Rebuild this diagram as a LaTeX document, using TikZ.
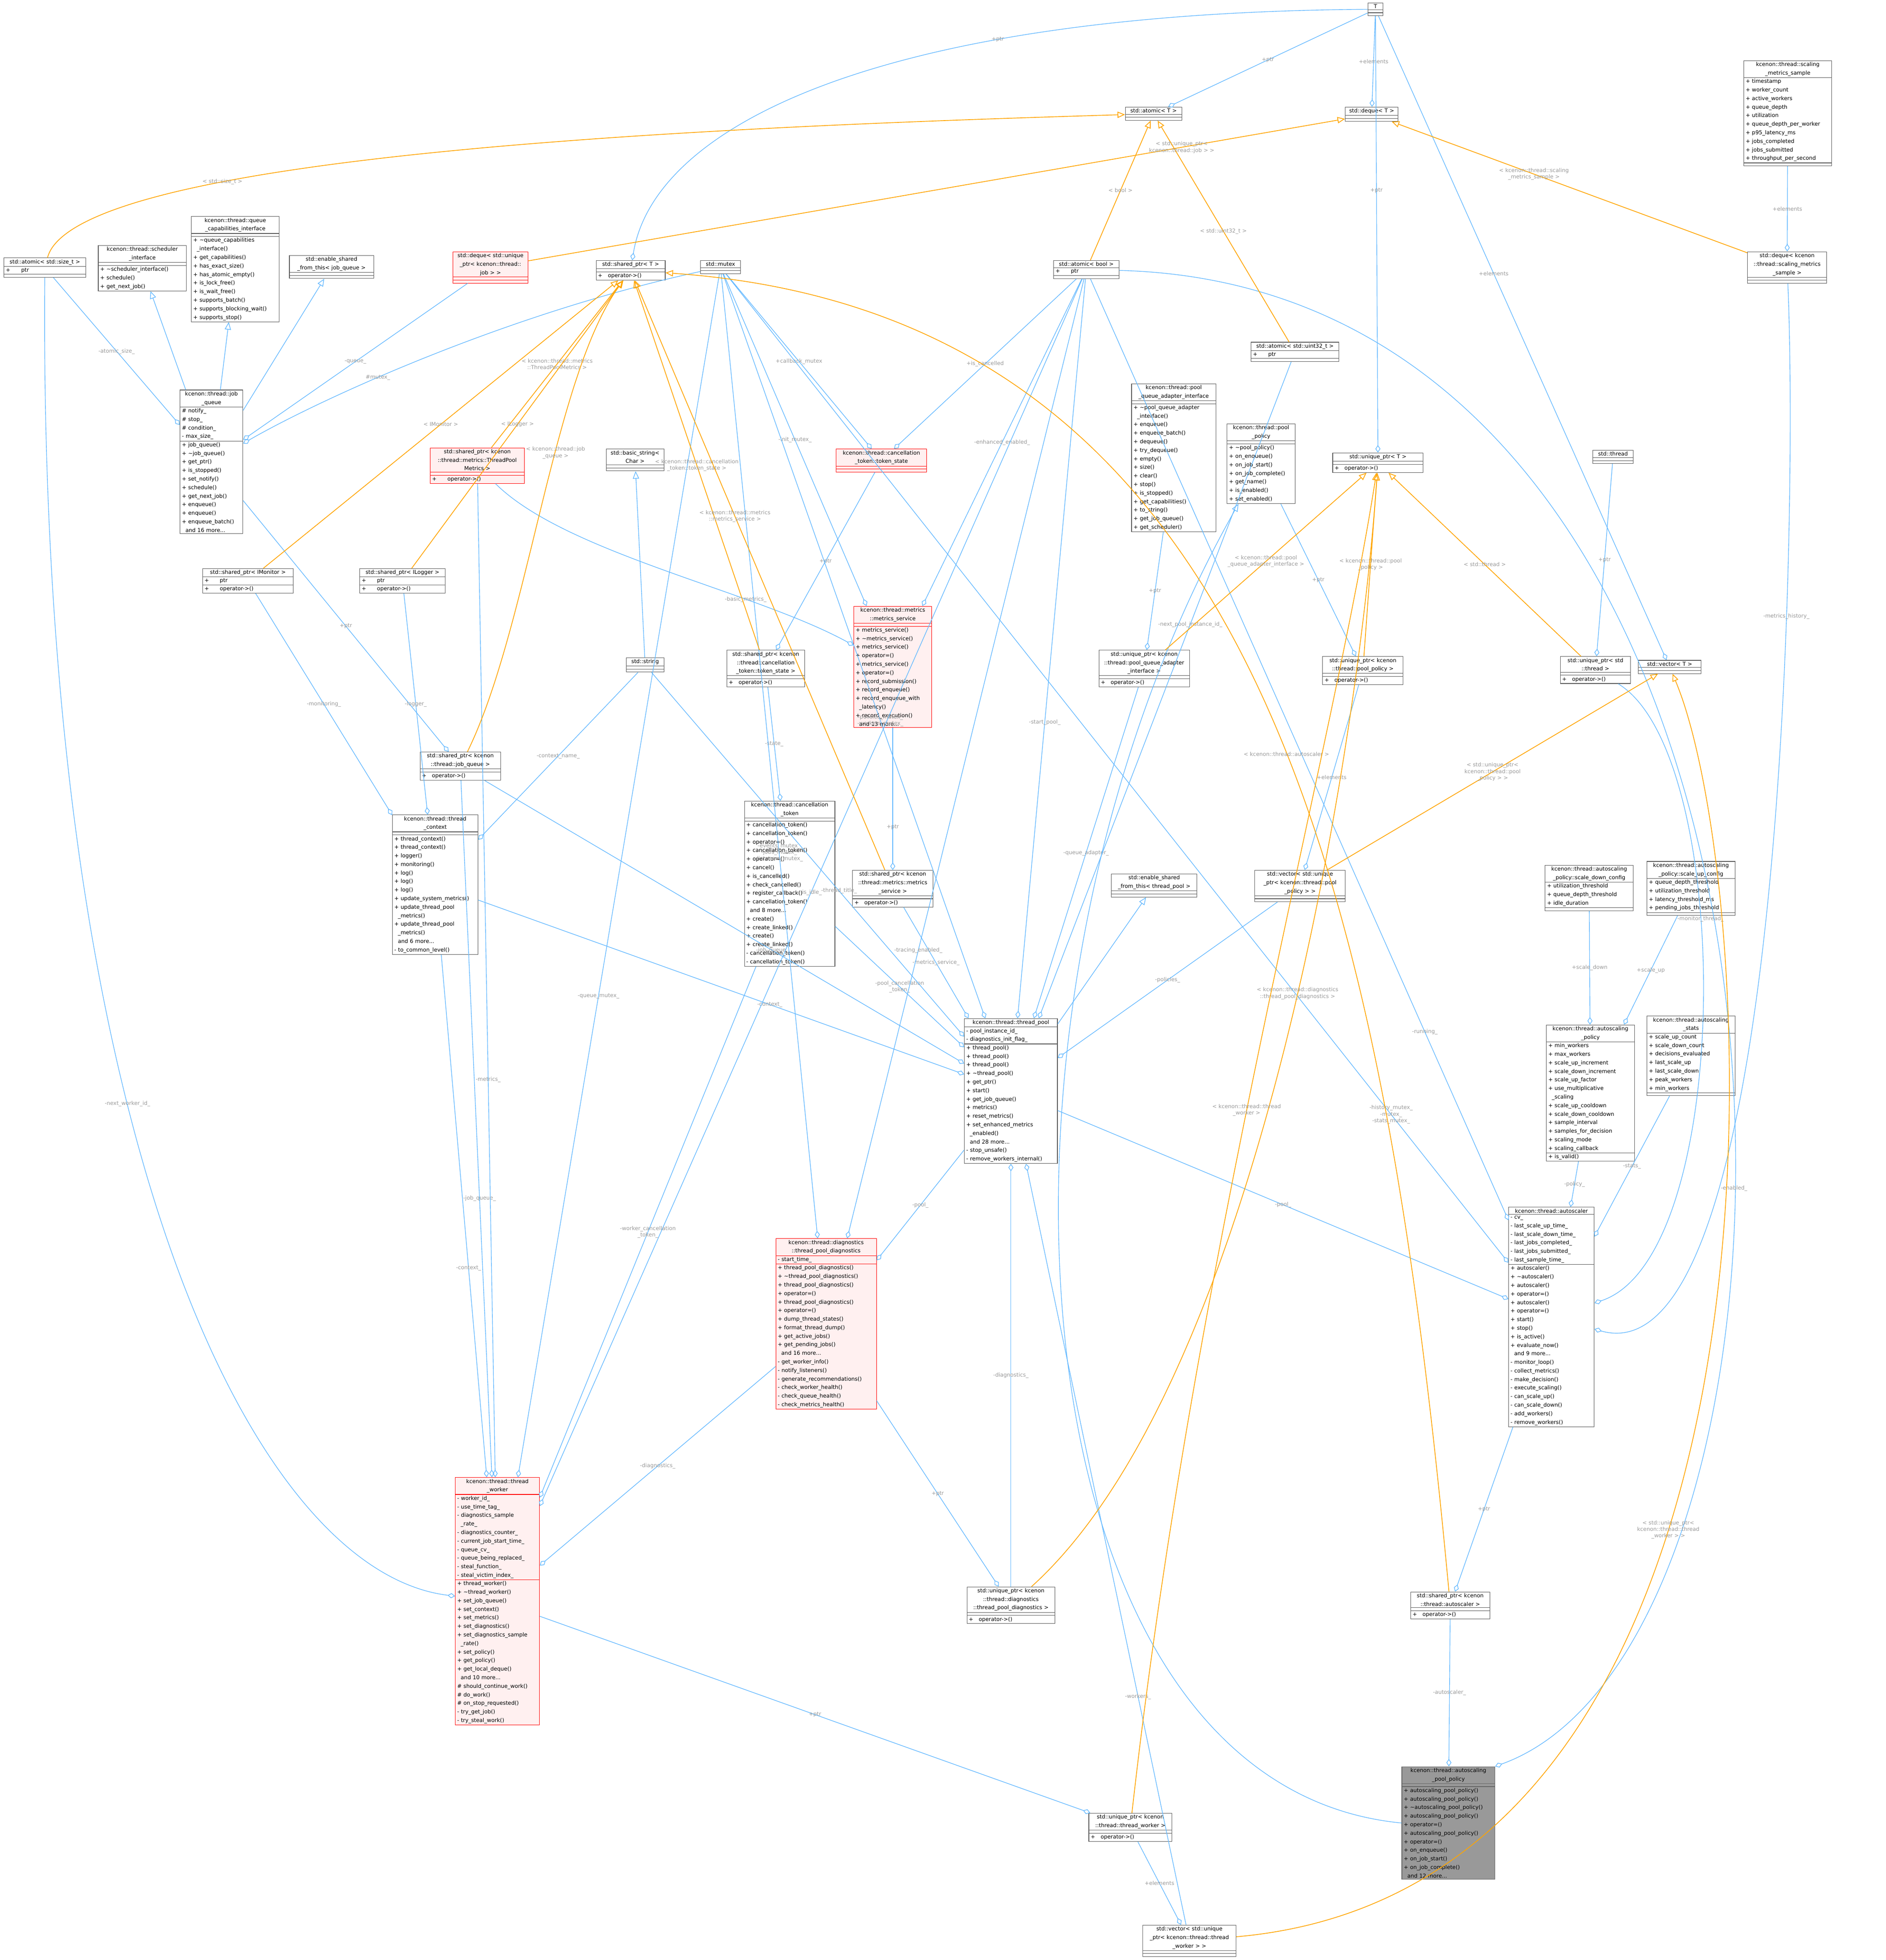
\documentclass[tikz,border=0pt]{standalone}
\usepackage{fontspec}
\setmainfont{DejaVu Sans}
\usetikzlibrary{arrows.meta,shapes.multipart}
\newcommand\dgfont{\fontsize{4.3}{6.8}\selectfont}
\newcommand\dglbl{\fontsize{4.3}{5.2}\selectfont}
\definecolor{ublue}{HTML}{63B8FF}
\definecolor{torange}{HTML}{FFA500}
\tikzset{
  cls/.style={rectangle split, rectangle split parts=3, draw=black!65, fill=white,
    align=left, font=\dgfont, inner xsep=1.5pt, inner ysep=1pt, line width=0.4pt,
    rectangle split empty part height=2pt, anchor=north west,
    rectangle split part align={center,left,left}},
  hot/.style={cls, draw=red, fill=red!6},
  focus/.style={cls, draw=black!60, fill=black!40},
  use/.style={draw=ublue, line width=0.5pt, -{Diamond[open,length=6pt,width=4pt]}},
  isa/.style={draw=ublue, line width=0.5pt, -{Triangle[open,length=6pt,width=5pt]}},
  tpl/.style={draw=torange, line width=0.6pt, -{Triangle[open,length=6pt,width=5pt]}},
  lbl/.style={font=\dglbl, text=black!40, inner sep=1pt, align=center}
}
\newcommand\ttl[1]{{\centering #1\par}}
\begin{document}
\begin{tikzpicture}[x=1pt,y=-1pt]
  \useasboundingbox (0,0) rectangle (1500,1559);
  % templates
  \node[cls, text width=9pt] (T) at (1088,2) {\ttl{T}\nodepart{two}\nodepart{three}};
  \node[cls, text width=42pt] (atomicT) at (895,85) {\ttl{std::atomic< T >}\nodepart{two}\nodepart{three}};
  \node[cls, text width=39pt] (dequeT) at (1070,85) {\ttl{std::deque< T >}\nodepart{two}\nodepart{three}};
  \node[cls, text width=52pt] (sharedT) at (474,207) {\ttl{std::shared\_ptr< T >}\nodepart{two}\nodepart{three}+\quad operator->()};
  \node[cls, text width=69pt] (uniqueT) at (1060,360) {\ttl{std::unique\_ptr< T >}\nodepart{two}\nodepart{three}+\quad operator->()};
  \node[cls, text width=47pt] (vectorT) at (1303,525) {\ttl{std::vector< T >}\nodepart{two}\nodepart{three}};
  % top row
  \node[cls, text width=67pt] (sample) at (1387,48) {\ttl{kcenon::thread::scaling\\\_metrics\_sample}\nodepart{two}+ timestamp\\+ worker\_count\\+ active\_workers\\+ queue\_depth\\+ utilization\\+ queue\_depth\_per\_worker\\+ p95\_latency\_ms\\+ jobs\_completed\\+ jobs\_submitted\\+ throughput\_per\_second\nodepart{three}};
  \node[cls, text width=62pt] (atomsize) at (3,205) {\ttl{std::atomic< std::size\_t >}\nodepart{two}+\qquad ptr\nodepart{three}};
  \node[cls, text width=67pt] (sched) at (78,195) {\ttl{kcenon::thread::scheduler\\\_interface}\nodepart{two}\nodepart{three}+ \textasciitilde scheduler\_interface()\\+ schedule()\\+ get\_next\_job()};
  \node[cls, text width=67pt] (qcaps) at (152,172) {\ttl{kcenon::thread::queue\\\_capabilities\_interface}\nodepart{two}\nodepart{three}+ \textasciitilde queue\_capabilities\\\ \ \_interface()\\+ get\_capabilities()\\+ has\_exact\_size()\\+ has\_atomic\_empty()\\+ is\_lock\_free()\\+ is\_wait\_free()\\+ supports\_batch()\\+ supports\_blocking\_wait()\\+ supports\_stop()};
  \node[cls, text width=64pt] (esjq) at (230,203) {\ttl{std::enable\_shared\\\_from\_this< job\_queue >}\nodepart{two}\nodepart{three}};
  \node[hot, text width=57pt] (djob) at (360,200) {\ttl{std::deque< std::unique\\\_ptr< kcenon::thread::\\job > >}\nodepart{two}\nodepart{three}};
  \node[cls, text width=29pt] (mutex) at (557,207) {\ttl{std::mutex}\nodepart{two}\nodepart{three}};
  \node[cls, text width=49pt] (abool) at (838,207) {\ttl{std::atomic< bool >}\nodepart{two}+\qquad ptr\nodepart{three}};
  \node[cls, text width=60pt] (dsample) at (1390,200) {\ttl{std::deque< kcenon\\::thread::scaling\_metrics\\\_sample >}\nodepart{two}\nodepart{three}};
  % second row
  \node[cls, text width=47pt] (jq) at (143,310) {\ttl{kcenon::thread::job\\\_queue}\nodepart{two}\# notify\_\\\# stop\_\\\# condition\_\\- max\_size\_\nodepart{three}+ job\_queue()\\+ \textasciitilde job\_queue()\\+ get\_ptr()\\+ is\_stopped()\\+ set\_notify()\\+ schedule()\\+ get\_next\_job()\\+ enqueue()\\+ enqueue()\\+ enqueue\_batch()\\\ \ and 16 more...};
  \node[cls, text width=67pt] (au32) at (995,272) {\ttl{std::atomic< std::uint32\_t >}\nodepart{two}+\qquad ptr\nodepart{three}};
  \node[cls, text width=64pt] (pqai) at (900,305) {\ttl{kcenon::thread::pool\\\_queue\_adapter\_interface}\nodepart{two}\nodepart{three}+ \textasciitilde pool\_queue\_adapter\\\ \ \_interface()\\+ enqueue()\\+ enqueue\_batch()\\+ dequeue()\\+ try\_dequeue()\\+ empty()\\+ size()\\+ clear()\\+ stop()\\+ is\_stopped()\\+ get\_capabilities()\\+ to\_string()\\+ get\_job\_queue()\\+ get\_scheduler()};
  \node[cls, text width=51pt] (ppol) at (976,337) {\ttl{kcenon::thread::pool\\\_policy}\nodepart{two}\nodepart{three}+ \textasciitilde pool\_policy()\\+ on\_enqueue()\\+ on\_job\_start()\\+ on\_job\_complete()\\+ get\_name()\\+ is\_enabled()\\+ set\_enabled()};
  \node[hot, text width=72pt] (spmet) at (342,356) {\ttl{std::shared\_ptr< kcenon\\::thread::metrics::ThreadPool\\Metrics >}\nodepart{two}\nodepart{three}+\qquad operator->()};
  \node[cls, text width=43pt] (bstr) at (482,357) {\ttl{std::basic\_string<\\ Char >}\nodepart{two}\nodepart{three}};
  \node[hot, text width=69pt] (tstate) at (665,357) {\ttl{kcenon::thread::cancellation\\\_token::token\_state}\nodepart{two}\nodepart{three}};
  \node[cls, text width=29pt] (sthread) at (1267,358) {\ttl{std::thread}\nodepart{two}\nodepart{three}};
  \node[cls, text width=69pt] (spmon) at (161,452) {\ttl{std::shared\_ptr< IMonitor >}\nodepart{two}+\qquad ptr\nodepart{three}+\qquad operator->()};
  \node[cls, text width=65pt] (splog) at (286,452) {\ttl{std::shared\_ptr< ILogger >}\nodepart{two}+\qquad ptr\nodepart{three}+\qquad operator->()};
  \node[hot, text width=59pt] (msvc) at (679,482) {\ttl{kcenon::thread::metrics\\::metrics\_service}\nodepart{two}\nodepart{three}+ metrics\_service()\\+ \textasciitilde metrics\_service()\\+ metrics\_service()\\+ operator=()\\+ metrics\_service()\\+ operator=()\\+ record\_submission()\\+ record\_enqueue()\\+ record\_enqueue\_with\\\ \ \_latency()\\+ record\_execution()\\\ \ and 13 more...};
  \node[cls, text width=27pt] (str) at (498,523) {\ttl{std::string}\nodepart{two}\nodepart{three}};
  \node[cls, text width=59pt] (sptok) at (578,517) {\ttl{std::shared\_ptr< kcenon\\::thread::cancellation\\\_token::token\_state >}\nodepart{two}\nodepart{three}+\quad operator->()};
  \node[cls, text width=69pt] (upqa) at (874,517) {\ttl{std::unique\_ptr< kcenon\\::thread::pool\_queue\_adapter\\\_interface >}\nodepart{two}\nodepart{three}+\quad operator->()};
  \node[cls, text width=61pt] (uppol) at (1052,522) {\ttl{std::unique\_ptr< kcenon\\::thread::pool\_policy >}\nodepart{two}\nodepart{three}+\quad operator->()};
  \node[cls, text width=53pt] (upthr) at (1241,522) {\ttl{std::unique\_ptr< std\\::thread >}\nodepart{two}\nodepart{three}+\quad operator->()};
  \node[cls, text width=61pt] (spjq) at (334,598) {\ttl{std::shared\_ptr< kcenon\\::thread::job\_queue >}\nodepart{two}\nodepart{three}+\quad operator->()};
  % middle
  \node[cls, text width=65pt] (ctx) at (312,648) {\ttl{kcenon::thread::thread\\\_context}\nodepart{two}\nodepart{three}+ thread\_context()\\+ thread\_context()\\+ logger()\\+ monitoring()\\+ log()\\+ log()\\+ log()\\+ update\_system\_metrics()\\+ update\_thread\_pool\\\ \ \_metrics()\\+ update\_thread\_pool\\\ \ \_metrics()\\\ \ and 6 more...\\- to\_common\_level()};
  \node[cls, text width=69pt] (ctok) at (592,637) {\ttl{kcenon::thread::cancellation\\\_token}\nodepart{two}\nodepart{three}+ cancellation\_token()\\+ cancellation\_token()\\+ operator=()\\+ cancellation\_token()\\+ operator=()\\+ cancel()\\+ is\_cancelled()\\+ check\_cancelled()\\+ register\_callback()\\+ cancellation\_token()\\\ \ and 8 more...\\+ create()\\+ create\_linked()\\+ create()\\+ create\_linked()\\- cancellation\_token()\\- cancellation\_token()};
  \node[cls, text width=61pt] (spmsvc) at (678,692) {\ttl{std::shared\_ptr< kcenon\\::thread::metrics::metrics\\\_service >}\nodepart{two}\nodepart{three}+\quad operator->()};
  \node[cls, text width=65pt] (estp) at (884,695) {\ttl{std::enable\_shared\\\_from\_this< thread\_pool >}\nodepart{two}\nodepart{three}};
  \node[cls, text width=69pt] (vpol) at (998,692) {\ttl{std::vector< std::unique\\\_ptr< kcenon::thread::pool\\\_policy > >}\nodepart{two}\nodepart{three}};
  \node[cls, text width=67pt] (sdown) at (1229,688) {\ttl{kcenon::thread::autoscaling\\\_policy::scale\_down\_config}\nodepart{two}+ utilization\_threshold\\+ queue\_depth\_threshold\\+ idle\_duration\nodepart{three}};
  \node[cls, text width=67pt] (sup) at (1310,685) {\ttl{kcenon::thread::autoscaling\\\_policy::scale\_up\_config}\nodepart{two}+ queue\_depth\_threshold\\+ utilization\_threshold\\+ latency\_threshold\_ms\\+ pending\_jobs\_threshold\nodepart{three}};
  \node[cls, text width=71pt] (pool) at (767,810) {\ttl{kcenon::thread::thread\_pool}\nodepart{two}- pool\_instance\_id\_\\- diagnostics\_init\_flag\_\nodepart{three}+ thread\_pool()\\+ thread\_pool()\\+ thread\_pool()\\+ \textasciitilde thread\_pool()\\+ get\_ptr()\\+ start()\\+ get\_job\_queue()\\+ metrics()\\+ reset\_metrics()\\+ set\_enhanced\_metrics\\\ \ \_enabled()\\\ \ and 28 more...\\- stop\_unsafe()\\- remove\_workers\_internal()};
  \node[cls, text width=67pt] (apol) at (1230,815) {\ttl{kcenon::thread::autoscaling\\\_policy}\nodepart{two}+ min\_workers\\+ max\_workers\\+ scale\_up\_increment\\+ scale\_down\_increment\\+ scale\_up\_factor\\+ use\_multiplicative\\\ \ \_scaling\\+ scale\_up\_cooldown\\+ scale\_down\_cooldown\\+ sample\_interval\\+ samples\_for\_decision\\+ scaling\_mode\\+ scaling\_callback\nodepart{three}+ is\_valid()};
  \node[cls, text width=67pt] (astat) at (1310,808) {\ttl{kcenon::thread::autoscaling\\\_stats}\nodepart{two}+ scale\_up\_count\\+ scale\_down\_count\\+ decisions\_evaluated\\+ last\_scale\_up\\+ last\_scale\_down\\+ peak\_workers\\+ min\_workers\nodepart{three}};
  \node[hot, text width=77pt] (diag) at (617,985) {\ttl{kcenon::thread::diagnostics\\::thread\_pool\_diagnostics}\nodepart{two}- start\_time\_\nodepart{three}+ thread\_pool\_diagnostics()\\+ \textasciitilde thread\_pool\_diagnostics()\\+ thread\_pool\_diagnostics()\\+ operator=()\\+ thread\_pool\_diagnostics()\\+ operator=()\\+ dump\_thread\_states()\\+ format\_thread\_dump()\\+ get\_active\_jobs()\\+ get\_pending\_jobs()\\\ \ and 16 more...\\- get\_worker\_info()\\- notify\_listeners()\\- generate\_recommendations()\\- check\_worker\_health()\\- check\_queue\_health()\\- check\_metrics\_health()};
  \node[cls, text width=65pt] (ascl) at (1200,960) {\ttl{kcenon::thread::autoscaler}\nodepart{two}- cv\_\\- last\_scale\_up\_time\_\\- last\_scale\_down\_time\_\\- last\_jobs\_completed\_\\- last\_jobs\_submitted\_\\- last\_sample\_time\_\nodepart{three}+ autoscaler()\\+ \textasciitilde autoscaler()\\+ autoscaler()\\+ operator=()\\+ autoscaler()\\+ operator=()\\+ start()\\+ stop()\\+ is\_active()\\+ evaluate\_now()\\\ \ and 9 more...\\- monitor\_loop()\\- collect\_metrics()\\- make\_decision()\\- execute\_scaling()\\- can\_scale\_up()\\- can\_scale\_down()\\- add\_workers()\\- remove\_workers()};
  % bottom
  \node[hot, text width=64pt] (wkr) at (362,1175) {\ttl{kcenon::thread::thread\\\_worker}\nodepart{two}- worker\_id\_\\- use\_time\_tag\_\\- diagnostics\_sample\\\ \ \_rate\_\\- diagnostics\_counter\_\\- current\_job\_start\_time\_\\- queue\_cv\_\\- queue\_being\_replaced\_\\- steal\_function\_\\- steal\_victim\_index\_\nodepart{three}+ thread\_worker()\\+ \textasciitilde thread\_worker()\\+ set\_job\_queue()\\+ set\_context()\\+ set\_metrics()\\+ set\_diagnostics()\\+ set\_diagnostics\_sample\\\ \ \_rate()\\+ set\_policy()\\+ get\_policy()\\+ get\_local\_deque()\\\ \ and 10 more...\\\# should\_continue\_work()\\\# do\_work()\\\# on\_stop\_requested()\\- try\_get\_job()\\- try\_steal\_work()};
  \node[cls, text width=67pt] (updiag) at (769,1262) {\ttl{std::unique\_ptr< kcenon\\::thread::diagnostics\\::thread\_pool\_diagnostics >}\nodepart{two}\nodepart{three}+\quad operator->()};
  \node[cls, text width=60pt] (spascl) at (1122,1266) {\ttl{std::shared\_ptr< kcenon\\::thread::autoscaler >}\nodepart{two}\nodepart{three}+\quad operator->()};
  \node[focus, text width=71pt] (app) at (1115,1405) {\ttl{kcenon::thread::autoscaling\\\_pool\_policy}\nodepart{two}\nodepart{three}+ autoscaling\_pool\_policy()\\+ autoscaling\_pool\_policy()\\+ \textasciitilde autoscaling\_pool\_policy()\\+ autoscaling\_pool\_policy()\\+ operator=()\\+ autoscaling\_pool\_policy()\\+ operator=()\\+ on\_enqueue()\\+ on\_job\_start()\\+ on\_job\_complete()\\\ \ and 12 more...};
  \node[cls, text width=63pt] (upwkr) at (866,1442) {\ttl{std::unique\_ptr< kcenon\\::thread::thread\_worker >}\nodepart{two}\nodepart{three}+\quad operator->()};
  \node[cls, text width=71pt] (vwkr) at (909,1531) {\ttl{std::vector< std::unique\\\_ptr< kcenon::thread::thread\\\_worker > >}\nodepart{two}\nodepart{three}};
  % members
  \draw[use] (T) -- node[lbl]{+ptr} (atomicT);
  \draw[use] (T) -- node[lbl]{+elements} (dequeT);
  \draw[use] (T) .. controls (700,10) and (520,100) .. node[lbl,pos=0.3]{+ptr} (sharedT);
  \draw[use] (T) -- node[lbl,pos=0.4]{+ptr} (uniqueT);
  \draw[use] (T) -- node[lbl,pos=0.4]{+elements} (vectorT);
  \draw[use] (sample) -- node[lbl]{+elements} (dsample);
  \draw[use] (atomsize) -- node[lbl]{-atomic\_size\_} (jq);
  \draw[use] (djob) -- node[lbl]{-queue\_} (jq);
  \draw[use] (mutex) .. controls (400,250) and (250,320) .. node[lbl,pos=0.6]{\#mutex\_} (jq);
  \draw[use] (tstate) -- node[lbl]{+ptr} (sptok);
  \draw[use] (mutex) -- node[lbl]{+callback\_mutex} (tstate);
  \draw[use] (abool) -- node[lbl]{+is\_cancelled} (tstate);
  \draw[use] (spmet) .. controls (450,440) and (600,470) .. node[lbl,pos=0.7]{-basic\_metrics\_} (msvc);
  \draw[use] (mutex) -- node[lbl]{-init\_mutex\_} (msvc);
  \draw[use] (abool) -- node[lbl]{-enhanced\_enabled\_} (msvc);
  \draw[use] (jq) -- node[lbl]{+ptr} (spjq);
  \draw[use] (spmon) -- node[lbl]{-monitoring\_} (ctx);
  \draw[use] (splog) -- node[lbl]{-logger\_} (ctx);
  \draw[use] (str) -- node[lbl]{-context\_name\_} (ctx);
  \draw[use] (sptok) -- node[lbl]{-state\_} (ctok);
  \draw[use] (msvc) -- node[lbl,pos=0.7]{+ptr} (spmsvc);
  \draw[use] (pqai) -- node[lbl]{+ptr} (upqa);
  \draw[use] (ppol) -- node[lbl]{+ptr} (uppol);
  \draw[use] (sthread) -- node[lbl]{+ptr} (upthr);
  \draw[use] (uppol) -- node[lbl]{+elements} (vpol);
  \draw[use] (upwkr) -- node[lbl]{+elements} (vwkr);
  \draw[use] (wkr) -- node[lbl]{+ptr} (upwkr);
  \draw[use] (spjq) -- node[lbl,pos=0.6]{-job\_queue\_} (pool);
  \draw[use] (ctx) -- node[lbl,pos=0.6]{-context\_} (pool);
  \draw[use] (ctok) -- node[lbl]{-pool\_cancellation\\\_token\_} (pool);
  \draw[use] (spmsvc) -- node[lbl]{-metrics\_service\_} (pool);
  \draw[use] (upqa) -- node[lbl]{-queue\_adapter\_} (pool);
  \draw[use] (vpol) -- node[lbl]{-policies\_} (pool);
  \draw[use] (abool) -- node[lbl,pos=0.6]{-start\_pool\_} (pool);
  \draw[use] (mutex) -- node[lbl,pos=0.6]{-policies\_mutex\_\\-workers\_mutex\_} (pool);
  \draw[use] (au32) -- node[lbl,pos=0.4]{-next\_pool\_instance\_id\_} (pool);
  \draw[use] (updiag) -- node[lbl]{-diagnostics\_} (pool);
  \draw[use] (vwkr) -- node[lbl,pos=0.3]{-workers\_} (pool);
  \draw[use] (str) -- node[lbl,pos=0.6]{-thread\_title\_} (pool);
  \draw[use] (pool) -- node[lbl]{-pool\_} (diag);
  \draw[use] (diag) -- node[lbl]{+ptr} (updiag);
  \draw[use] (mutex) -- node[lbl,pos=0.6]{-events\_mutex\_\\-jobs\_mutex\_\\-listeners\_mutex\_} (diag);
  \draw[use] (abool) -- node[lbl,pos=0.7]{-tracing\_enabled\_} (diag);
  \draw[use] (pool) -- node[lbl]{-pool\_} (ascl);
  \draw[use] (apol) -- node[lbl]{-policy\_} (ascl);
  \draw[use] (astat) -- node[lbl]{-stats\_} (ascl);
  \draw[use] (sdown) -- node[lbl]{+scale\_down} (apol);
  \draw[use] (sup) -- node[lbl]{+scale\_up} (apol);
  \draw[use] (mutex) -- node[lbl,pos=0.85]{-history\_mutex\_\\-mutex\_\\-stats\_mutex\_} (ascl);
  \draw[use] (abool) -- node[lbl,pos=0.8]{-running\_} (ascl);
  \draw[use] (upthr) .. controls (1380,600) and (1380,1000) .. node[lbl,pos=0.4]{-monitor\_thread\_} (ascl);
  \draw[use] (dsample) .. controls (1430,400) and (1420,1100) .. node[lbl,pos=0.3]{-metrics\_history\_} (ascl);
  \draw[use] (ascl) -- node[lbl]{+ptr} (spascl);
  \draw[use] (spascl) -- node[lbl]{-autoscaler\_} (app);
  \draw[use] (abool) .. controls (1480,230) and (1480,1300) .. node[lbl,pos=0.6]{-enabled\_} (app.north east);
  \draw[use] (atomsize) .. controls (30,900) and (200,1250) .. node[lbl,pos=0.4]{-next\_worker\_id\_} (wkr);
  \draw[use] (spjq) -- node[lbl,pos=0.6]{-job\_queue\_} (wkr);
  \draw[use] (ctx) -- node[lbl,pos=0.6]{-context\_} (wkr);
  \draw[use] (spmet) -- node[lbl,pos=0.6]{-metrics\_} (wkr);
  \draw[use] (mutex) -- node[lbl,pos=0.6]{-queue\_mutex\_} (wkr);
  \draw[use] (abool) -- node[lbl,pos=0.5]{-is\_idle\_} (wkr);
  \draw[use] (ctok) -- node[lbl]{-worker\_cancellation\\\_token\_} (wkr);
  \draw[use] (diag) -- node[lbl]{-diagnostics\_} (wkr);
  % inheritance
  \draw[isa] (jq) -- (sched);
  \draw[isa] (jq) -- (qcaps);
  \draw[isa] (jq) -- (esjq);
  \draw[isa] (str) -- (bstr);
  \draw[isa] (pool) -- (estp);
  \draw[isa] (app.west) .. controls (800,1420) and (760,800) .. (ppol);
  % template instances
  \draw[tpl] (atomsize) .. controls (60,120) and (600,100) .. node[lbl,pos=0.3]{< std::size\_t >} (atomicT);
  \draw[tpl] (abool) -- node[lbl]{< bool >} (atomicT);
  \draw[tpl] (au32) -- node[lbl]{< std::uint32\_t >} (atomicT);
  \draw[tpl] (djob) -- node[lbl,pos=0.8]{< std::unique\_ptr<\\kcenon::thread::job > >} (dequeT);
  \draw[tpl] (dsample) -- node[lbl,pos=0.6]{< kcenon::thread::scaling\\\_metrics\_sample >} (dequeT);
  \draw[tpl] (spmet) -- node[lbl]{< kcenon::thread::metrics\\::ThreadPoolMetrics >} (sharedT);
  \draw[tpl] (spmon) -- node[lbl]{< IMonitor >} (sharedT);
  \draw[tpl] (splog) -- node[lbl]{< ILogger >} (sharedT);
  \draw[tpl] (spjq) .. controls (420,500) and (440,300) .. node[lbl,pos=0.6]{< kcenon::thread::job\\\_queue >} (sharedT);
  \draw[tpl] (sptok) -- node[lbl]{< kcenon::thread::cancellation\\\_token::token\_state >} (sharedT);
  \draw[tpl] (spmsvc) -- node[lbl,pos=0.6]{< kcenon::thread::metrics\\::metrics\_service >} (sharedT);
  \draw[tpl] (spascl) .. controls (1100,700) and (1000,250) .. node[lbl,pos=0.45]{< kcenon::thread::autoscaler >} (sharedT);
  \draw[tpl] (upqa) -- node[lbl]{< kcenon::thread::pool\\\_queue\_adapter\_interface >} (uniqueT);
  \draw[tpl] (uppol) -- node[lbl]{< kcenon::thread::pool\\\_policy >} (uniqueT);
  \draw[tpl] (upthr) -- node[lbl]{< std::thread >} (uniqueT);
  \draw[tpl] (vpol) -- node[lbl]{< std::unique\_ptr<\\kcenon::thread::pool\\\_policy > >} (vectorT);
  \draw[tpl] (updiag) .. controls (1000,1100) and (1080,600) .. node[lbl,pos=0.55]{< kcenon::thread::diagnostics\\::thread\_pool\_diagnostics >} (uniqueT);
  \draw[tpl] (upwkr) .. controls (950,1000) and (1060,600) .. node[lbl,pos=0.45]{< kcenon::thread::thread\\\_worker >} (uniqueT);
  \draw[tpl] (vwkr) .. controls (1450,1500) and (1400,700) .. node[lbl,pos=0.4]{< std::unique\_ptr<\\kcenon::thread::thread\\\_worker > >} (vectorT);
\end{tikzpicture}
\end{document}
